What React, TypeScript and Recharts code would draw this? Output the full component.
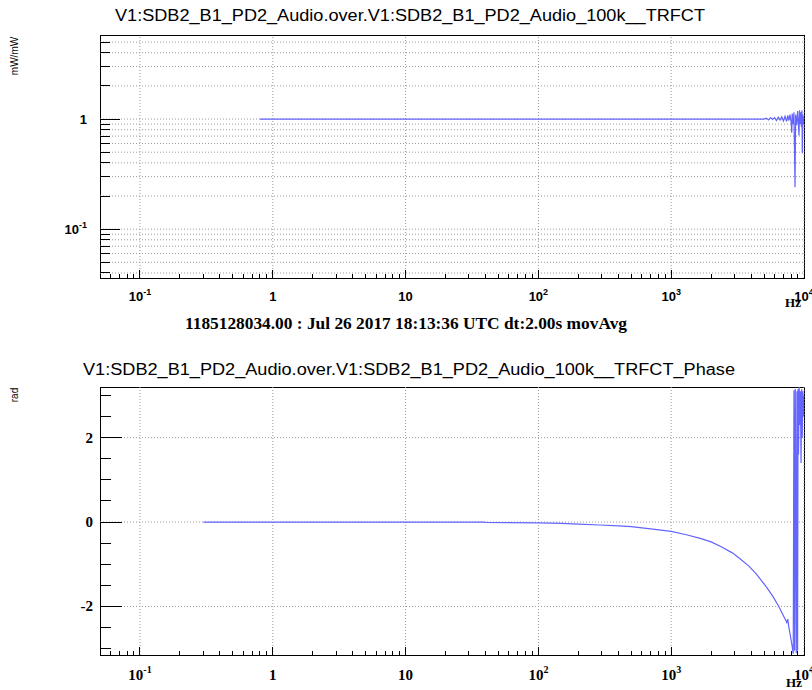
import React from "react";
import { LineChart, Line, XAxis, YAxis, ReferenceLine, ReferenceArea } from "recharts";

// ---------- axes ----------
const X_DOMAIN: [number, number] = [0.05, 10000];
const MAG_DOMAIN: [number, number] = [0.036, 5.8];
const PHASE_DOMAIN: [number, number] = [-3.15, 3.2];

const X_MAJOR = [0.1, 1, 10, 100, 1000, 10000];
const X_LABEL_BASE = ["10", "1", "10", "10", "10", "10"];
const X_LABEL_EXP = ["-1", "", "", "2", "3", "4"];
const X_MINOR = [
  0.06, 0.07, 0.08, 0.09,
  0.2, 0.3, 0.4, 0.5, 0.6, 0.7, 0.8, 0.9,
  2, 3, 4, 5, 6, 7, 8, 9,
  20, 30, 40, 50, 60, 70, 80, 90,
  200, 300, 400, 500, 600, 700, 800, 900,
  2000, 3000, 4000, 5000, 6000, 7000, 8000, 9000,
];

const MAG_MAJOR = [0.1, 1];
const MAG_LABEL_BASE = ["10", "1"];
const MAG_LABEL_EXP = ["-1", ""];
const MAG_MINOR = [
  0.04, 0.05, 0.06, 0.07, 0.08, 0.09,
  0.2, 0.3, 0.4, 0.5, 0.6, 0.7, 0.8, 0.9,
  2, 3, 4, 5,
];

const PHASE_MAJOR = [-2, 0, 2];
const PHASE_LABELS = ["-2", "0", "2"];
const PHASE_MINOR = [-3, -2.5, -1.5, -1, -0.5, 0.5, 1, 1.5, 2.5, 3];

// ---------- data ----------
const MAG_FREQ = [
  0.8, 1, 10, 100, 1000, 3000, 5000, 5200, 5400, 5600, 5800, 6000, 6200, 6400,
  6600, 6800, 7000, 7200, 7400, 7550, 7700, 7850, 8000, 8090, 8150, 8300, 8400,
  8560, 8650, 8800, 8950, 9100, 9170, 9250, 9350, 9450, 9550, 9650, 9710, 9800,
  9900, 10000,
];
const MAG_VALUES = [
  1, 1, 1, 1, 1, 1, 1, 1.02, 0.98, 1.03, 0.99, 1.03, 0.97, 1.04,
  0.98, 1.05, 0.96, 1.06, 0.95, 1.08, 0.97, 1.1, 0.93, 0.75, 1.12, 0.9, 1.15,
  0.24, 1.1, 0.88, 1.18, 0.85, 0.71, 1.2, 0.9, 1.15, 0.85, 1.2, 0.49, 1.1,
  0.9, 1.05,
];

const PHASE_FREQ = [
  0.3, 1, 10, 39, 40, 100, 150, 200, 290, 400, 500, 700, 1000, 1300, 1630, 2000,
  2400, 2884, 3300, 3864, 4400, 5155, 5800, 6460, 7000, 7300, 7420, 7550, 7700,
  7900, 8100, 8300, 8400, 8500, 8600, 8750, 8850, 8950, 9020, 9100, 9200, 9300,
  9400, 9500, 9600, 9700, 9800, 9900, 10000,
];
const PHASE_VALUES = [
  0, 0, 0, 0, -0.01, -0.02, -0.03, -0.05, -0.07, -0.09, -0.11, -0.16, -0.22, -0.3, -0.38, -0.47,
  -0.59, -0.73, -0.87, -1.05, -1.24, -1.52, -1.75, -2.0, -2.22, -2.33, -2.38, -2.3, -2.5,
  -2.7, -2.9, -3.12, 3.12, -3.05, 3.15, -3.1, 3.1, -3.05, 3.15, 1.6, 3.2, 2.3,
  3.1, 1.4, 3.15, 2.0, 3.1, 2.5, 3.0,
];

const magData = MAG_FREQ.map((f, i) => ({ f, v: MAG_VALUES[i] }));
const phaseData = PHASE_FREQ.map((f, i) => ({ f, v: PHASE_VALUES[i] }));

const X_TICKS = [...X_MAJOR, ...X_MINOR].sort((a, b) => a - b);
const MAG_TICKS = [...MAG_MAJOR, ...MAG_MINOR].sort((a, b) => a - b);
const PHASE_TICKS = [...PHASE_MAJOR, ...PHASE_MINOR].sort((a, b) => a - b);

const SANS = "'Liberation Sans', Arial, Helvetica, sans-serif";
const SERIF = "'Liberation Serif', 'Times New Roman', serif";
const LINE_COLOR = "#6464ff";
const GRID = { stroke: "#9a9a9a", strokeDasharray: "1 2", strokeWidth: 1 };

type LabelStyle = { font: string; size: number; sup: number; dy: number; supDy: number };

const makeXTick = (st: LabelStyle) => (props: any) => {
  const { x, y, payload } = props;
  const i = X_MAJOR.indexOf(payload.value);
  const major = i >= 0;
  return (
    <g>
      <line x1={x} x2={x} y1={y} y2={y - (major ? 8 : 4)} stroke="#000" strokeWidth={1} shapeRendering="crispEdges" />
      {major && (
        <text
          x={x}
          y={y + st.dy}
          textAnchor="middle"
          fontFamily={st.font}
          fontWeight="bold"
          fontSize={st.size}
          fill="#000"
        >
          {X_LABEL_BASE[i]}
          {X_LABEL_EXP[i] && (
            <tspan dy={st.supDy} fontSize={st.sup}>
              {X_LABEL_EXP[i]}
            </tspan>
          )}
        </text>
      )}
    </g>
  );
};

const MagYTick = (props: any) => {
  const { x, y, payload } = props;
  const i = MAG_MAJOR.indexOf(payload.value);
  const major = i >= 0;
  return (
    <g>
      <line x1={x} x2={x + (major ? 20 : 10)} y1={y} y2={y} stroke="#000" strokeWidth={1} shapeRendering="crispEdges" />
      {major && (
        <text
          x={x - 13}
          y={y + 5}
          textAnchor="end"
          fontFamily={SANS}
          fontWeight="bold"
          fontSize={13}
          fill="#000"
        >
          {MAG_LABEL_BASE[i]}
          {MAG_LABEL_EXP[i] && (
            <tspan dy={-6} fontSize={9}>
              {MAG_LABEL_EXP[i]}
            </tspan>
          )}
        </text>
      )}
    </g>
  );
};

const PhaseYTick = (props: any) => {
  const { x, y, payload } = props;
  const i = PHASE_MAJOR.indexOf(payload.value);
  const major = i >= 0;
  return (
    <g>
      <line x1={x} x2={x + (major ? 22 : 11)} y1={y} y2={y} stroke="#000" strokeWidth={1} shapeRendering="crispEdges" />
      {major && (
        <text
          x={x - 7}
          y={y + 5}
          textAnchor="end"
          fontFamily={SERIF}
          fontWeight="bold"
          fontSize={15}
          fill="#000"
        >
          {PHASE_LABELS[i]}
        </text>
      )}
    </g>
  );
};

const topXTick = makeXTick({ font: SANS, size: 13, sup: 9, dy: 23, supDy: -6 });
const botXTick = makeXTick({ font: SERIF, size: 15, sup: 10, dy: 25, supDy: -7 });

export default function App() {
  return (
    <div style={{ position: "absolute", left: 0, top: 0, width: 812, height: 690, background: "#fff" }}>
      <div style={{ position: "absolute", left: 0, top: 0 }}>
        <LineChart width={812} height={320} margin={{ top: 35, right: 8, bottom: 0, left: 0 }}>
          <XAxis
            dataKey="f"
            type="number"
            scale="log"
            domain={X_DOMAIN}
            allowDataOverflow
            ticks={X_TICKS}
            interval={0}
            tickSize={0}
            tickMargin={0}
            tickLine={false}
            axisLine={false}
            height={42}
            tick={topXTick}
          />
          <YAxis
            type="number"
            scale="log"
            domain={MAG_DOMAIN}
            allowDataOverflow
            ticks={MAG_TICKS}
            interval={0}
            tickSize={0}
            tickMargin={0}
            tickLine={false}
            axisLine={false}
            width={100}
            tick={MagYTick}
          />
          {MAG_TICKS.map((v) => (
            <ReferenceLine key={"hy" + v} y={v} {...GRID} />
          ))}
          {X_MAJOR.map((v) => (
            <ReferenceLine key={"vx" + v} x={v} {...GRID} />
          ))}
          <ReferenceArea
            x1={X_DOMAIN[0]}
            x2={X_DOMAIN[1]}
            y1={MAG_DOMAIN[0]}
            y2={MAG_DOMAIN[1]}
            fill="none"
            fillOpacity={0}
            stroke="#000"
            strokeWidth={1}
            shapeRendering="crispEdges"
            ifOverflow="visible"
          />
          <Line
            data={magData}
            dataKey="v"
            type="linear"
            stroke={LINE_COLOR}
            strokeWidth={1.2}
            dot={false}
            isAnimationActive={false}
          />
        </LineChart>
      </div>

      <div style={{ position: "absolute", left: 0, top: 330 }}>
        <LineChart width={812} height={360} margin={{ top: 57, right: 8, bottom: 0, left: 0 }}>
          <XAxis
            dataKey="f"
            type="number"
            scale="log"
            domain={X_DOMAIN}
            allowDataOverflow
            ticks={X_TICKS}
            interval={0}
            tickSize={0}
            tickMargin={0}
            tickLine={false}
            axisLine={false}
            height={35}
            tick={botXTick}
          />
          <YAxis
            type="number"
            domain={PHASE_DOMAIN}
            allowDataOverflow
            ticks={PHASE_TICKS}
            interval={0}
            tickSize={0}
            tickMargin={0}
            tickLine={false}
            axisLine={false}
            width={100}
            tick={PhaseYTick}
          />
          {PHASE_MAJOR.map((v) => (
            <ReferenceLine key={"hy" + v} y={v} {...GRID} />
          ))}
          {X_MAJOR.map((v) => (
            <ReferenceLine key={"vx" + v} x={v} {...GRID} />
          ))}
          <ReferenceArea
            x1={X_DOMAIN[0]}
            x2={X_DOMAIN[1]}
            y1={PHASE_DOMAIN[0]}
            y2={PHASE_DOMAIN[1]}
            fill="none"
            fillOpacity={0}
            stroke="#000"
            strokeWidth={1}
            shapeRendering="crispEdges"
            ifOverflow="visible"
          />
          <Line
            data={phaseData}
            dataKey="v"
            type="linear"
            stroke={LINE_COLOR}
            strokeWidth={1.2}
            dot={false}
            isAnimationActive={false}
          />
        </LineChart>
      </div>

      <svg
        width={812}
        height={690}
        style={{ position: "absolute", left: 0, top: 0, pointerEvents: "none" }}
      >
        <text x={115} y={21} fontFamily={SANS} fontSize={16} fill="#000" textLength={590} lengthAdjust="spacingAndGlyphs">
          V1:SDB2_B1_PD2_Audio.over.V1:SDB2_B1_PD2_Audio_100k__TRFCT
        </text>
        <text x={185} y={329} fontFamily={SERIF} fontWeight="bold" fontSize={16} fill="#000" textLength={442} lengthAdjust="spacingAndGlyphs">
          1185128034.00 : Jul 26 2017 18:13:36 UTC dt:2.00s movAvg
        </text>
        <text x={83} y={375} fontFamily={SANS} fontSize={16} fill="#000" textLength={652} lengthAdjust="spacingAndGlyphs">
          V1:SDB2_B1_PD2_Audio.over.V1:SDB2_B1_PD2_Audio_100k__TRFCT_Phase
        </text>
        <text x={18} y={56} transform="rotate(-90 18 56)" textAnchor="middle" fontFamily={SANS} fontSize={10} fill="#000">
          mW/mW
        </text>
        <text x={18} y={395} transform="rotate(-90 18 395)" textAnchor="middle" fontFamily={SANS} fontSize={10} fill="#000">
          rad
        </text>
        <text x={793} y={307} textAnchor="middle" fontFamily={SERIF} fontWeight="bold" fontSize={13} fill="#000">
          Hz
        </text>
        <text x={794} y={687} textAnchor="middle" fontFamily={SERIF} fontWeight="bold" fontSize={13} fill="#000">
          Hz
        </text>
      </svg>
    </div>
  );
}
